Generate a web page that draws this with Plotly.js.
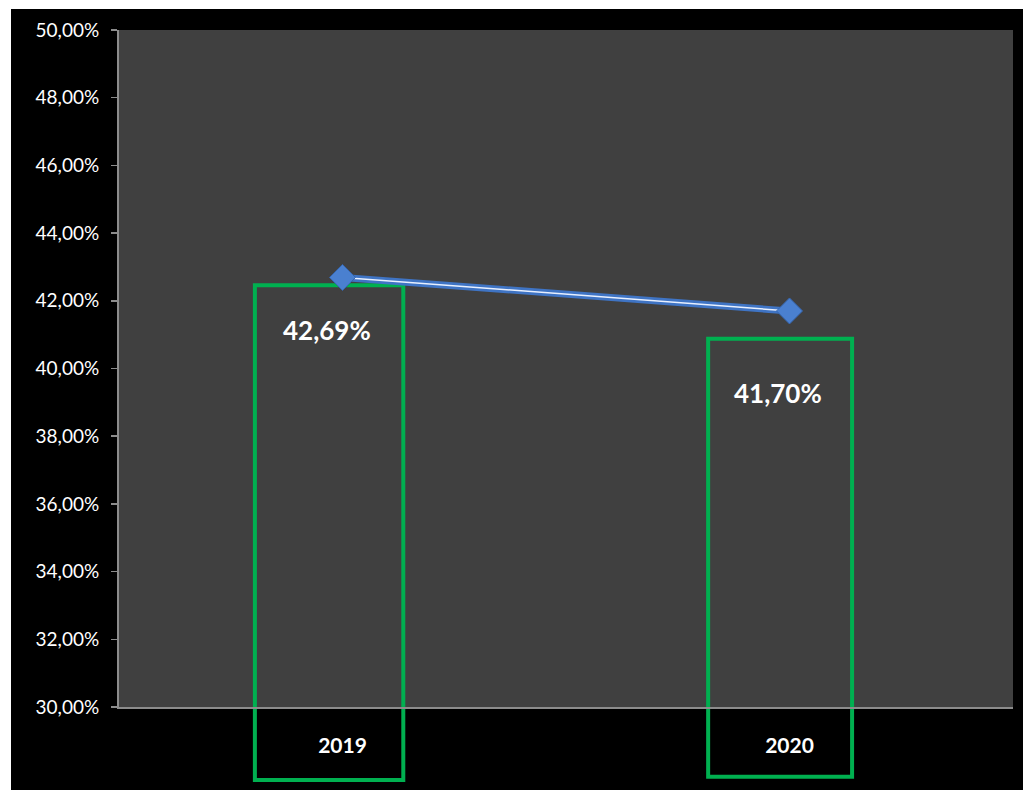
<!DOCTYPE html>
<html>
<head>
<meta charset="utf-8">
<script src="https://cdn.plot.ly/plotly-3.0.1.min.js"></script>
<style>
html, body { margin:0; padding:0; background:#ffffff; width:1023px; height:791px; overflow:hidden; }
#chart { position:absolute; left:11px; top:9px; width:1012px; height:781px; }
</style>
</head>
<body>
<div id="chart"></div>
<script>
const categories = ['2019', '2020'];
const values = [42.69, 41.70];
const valueLabels = ['42,69%', '41,70%'];
const yTickVals = [30, 32, 34, 36, 38, 40, 42, 44, 46, 48, 50];
const yTickText = ['30,00%', '32,00%', '34,00%', '36,00%', '38,00%', '40,00%', '42,00%', '44,00%', '46,00%', '48,00%', '50,00%'];

const FONT = "Lato, 'Open Sans', sans-serif";

const traces = [
  { x: categories, y: values, type: 'scatter', mode: 'lines',
    line: { color: '#3f74c4', width: 7 }, hoverinfo: 'skip', showlegend: false },
  { x: categories, y: values, type: 'scatter', mode: 'lines',
    line: { color: '#e8f0ff', width: 1.5 }, hoverinfo: 'skip', showlegend: false },
  { x: categories, y: values, type: 'scatter', mode: 'markers',
    marker: { symbol: 'diamond', size: 20, color: '#4a80d0', line: { color: '#3566b0', width: 1 } },
    hoverinfo: 'skip', showlegend: false }
];

const labelShifts = [[-16, -53], [-12, -82]];
const annotations = categories.map((c, i) => ({
  x: i, y: values[i], xref: 'x', yref: 'y', text: '<b>' + valueLabels[i] + '</b>',
  showarrow: false, xshift: labelShifts[i][0], yshift: labelShifts[i][1],
  font: { family: FONT, size: 26, color: '#ffffff' }
}));

const boxes = [[0.152, 0.318, -0.108, 0.623], [0.659, 0.820, -0.103, 0.544]];
const shapes = boxes.map(b => ({
  type: 'rect', xref: 'paper', yref: 'paper', x0: b[0], x1: b[1], y0: b[2], y1: b[3],
  line: { color: '#00b050', width: 4 }, fillcolor: 'rgba(0,0,0,0)', layer: 'below'
}));

const layout = {
  width: 1012, height: 781,
  paper_bgcolor: '#000000', plot_bgcolor: '#404040',
  margin: { l: 108, r: 10, t: 21, b: 83, pad: 0 },
  font: { family: FONT, color: '#ffffff' },
  xaxis: {
    type: 'category', range: [-0.5, 1.5], showgrid: false, zeroline: false,
    showline: true, linecolor: '#8c8c8c', linewidth: 2,
    ticks: '', ticklabelstandoff: 19,
    tickfont: { family: FONT, size: 21, color: '#ffffff', weight: 'bold' }
  },
  yaxis: {
    range: [30, 50], tickvals: yTickVals, ticktext: yTickText,
    showgrid: false, zeroline: false, showline: true, linecolor: '#8c8c8c', linewidth: 2,
    ticks: 'outside', ticklen: 6, tickcolor: '#8c8c8c', tickwidth: 1.5, ticklabelstandoff: 8,
    tickfont: { family: FONT, size: 19, color: '#ffffff' }
  },
  shapes: shapes,
  annotations: annotations,
  showlegend: false
};

Plotly.newPlot('chart', traces, layout, { staticPlot: true, displayModeBar: false });
</script>
</body>
</html>
